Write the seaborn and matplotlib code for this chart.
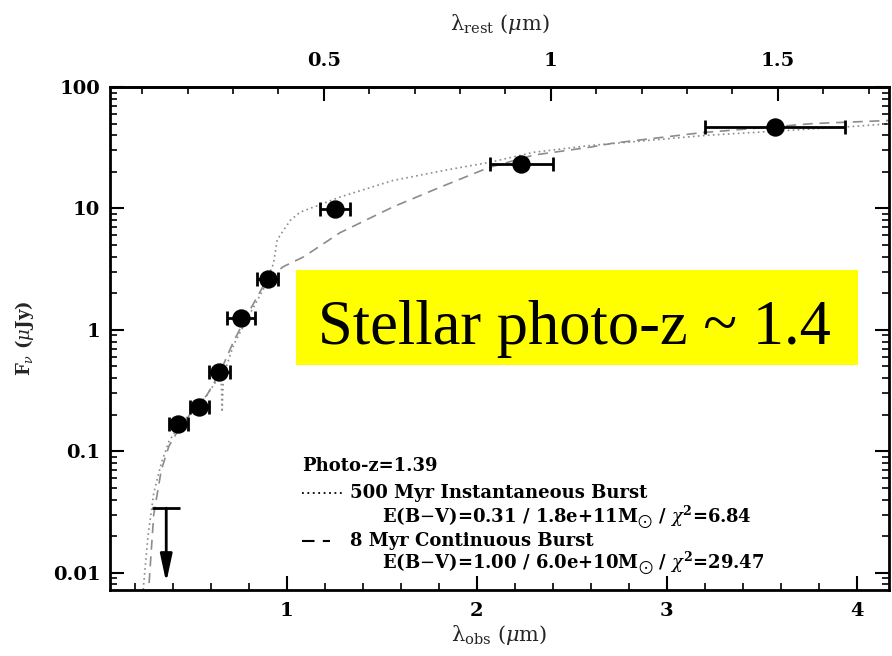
import numpy as np
import pandas as pd
import matplotlib
matplotlib.use("Agg")
import matplotlib.pyplot as plt
import seaborn as sns
from matplotlib.lines import Line2D
from matplotlib.patches import Rectangle
from matplotlib.ticker import MultipleLocator, NullFormatter, LogLocator

# Photometric redshift of the fit
photo_z = 1.39

# Observed photometry (micron, microJy) with band half-widths
lam_obs = [0.43, 0.54, 0.645, 0.76, 0.90, 1.255, 2.235, 3.57]
lam_lo = [0.05, 0.05, 0.055, 0.075, 0.055, 0.08, 0.165, 0.37]
lam_hi = [0.05, 0.05, 0.055, 0.075, 0.055, 0.08, 0.165, 0.37]
flux = [0.168, 0.232, 0.45, 1.25, 2.6, 9.9, 23.0, 46.5]

# Upper limit in the bluest band
ulim_lam = [0.366]
ulim_halfwidth = [0.075]
ulim_flux = [0.034]
ulim_arrow_tip = [0.0083]

# 500 Myr instantaneous burst model
lam_inst = [0.24, 0.27, 0.30, 0.34, 0.38, 0.43, 0.50, 0.58, 0.64, 0.655, 0.66, 0.667,
            0.72, 0.80, 0.88, 0.93, 0.95, 0.98, 1.02, 1.07, 1.28, 1.56, 1.86, 2.07,
            2.30, 2.60, 3.21, 3.95, 4.19]
flux_inst = [0.006, 0.02, 0.045, 0.08, 0.12, 0.16, 0.21, 0.29, 0.40, 0.40, 0.21, 0.42,
             0.75, 1.3, 2.2, 3.5, 5.5, 6.5, 8.0, 9.3, 12.4, 17.0, 21.0, 24.0,
             29.0, 33.0, 40.0, 47.0, 50.0]

# 8 Myr continuous burst model
lam_cont = [0.27, 0.30, 0.34, 0.38, 0.43, 0.50, 0.58, 0.65, 0.72, 0.80, 0.89, 0.98,
            1.09, 1.28, 1.56, 1.81, 2.06, 2.30, 2.60, 2.72, 3.18, 3.77, 4.17]
flux_cont = [0.006, 0.03, 0.07, 0.11, 0.15, 0.21, 0.29, 0.45, 0.8, 1.4, 2.5, 3.3,
             4.0, 6.3, 10.3, 15.0, 21.6, 27.5, 32.0, 34.5, 42.0, 50.0, 53.0]

y_ticks = [0.01, 0.1, 1, 10, 100]
y_ticklabels = ["0.01", "0.1", "1", "10", "100"]
x_ticks = [1, 2, 3, 4]
rest_ticks = [0.5, 1.0, 1.5]
rest_ticklabels = ["0.5", "1", "1.5"]

sns.set_theme(style="ticks")
plt.rcParams["font.family"] = ["DejaVu Serif"]
plt.rcParams["mathtext.fontset"] = "dejavuserif"

W, H = 892, 656
fig = plt.figure(figsize=(W / 100, H / 100), dpi=100)
fig.patch.set_facecolor("white")
ax = fig.add_axes([110 / W, 1 - 590 / H, 779 / W, 503 / H])
ax.set_facecolor("white")

inst = pd.DataFrame({"lam": lam_inst, "flux": flux_inst})
cont = pd.DataFrame({"lam": lam_cont, "flux": flux_cont})
sns.lineplot(data=inst, x="lam", y="flux", ax=ax, color="0.55", lw=1.2,
             linestyle=(0, (1, 2)), sort=True, estimator=None)
sns.lineplot(data=cont, x="lam", y="flux", ax=ax, color="0.55", lw=1.2,
             linestyle=(0, (6, 4)), sort=True, estimator=None)

ax.set_yscale("log")
ax.set_xlim(0.07, 4.17)
ax.set_ylim(0.0072, 100)

# photometry
ax.errorbar(lam_obs, flux, xerr=[lam_lo, lam_hi], fmt="none", ecolor="black",
            elinewidth=2, capsize=5, capthick=2, zorder=4)
sns.scatterplot(x=lam_obs, y=flux, ax=ax, color="black", s=150, edgecolor="black",
                zorder=5, legend=False)

# upper limit
ax.errorbar(ulim_lam, ulim_flux, xerr=ulim_halfwidth, fmt="none", ecolor="black",
            elinewidth=2, capsize=0, zorder=4)
ax.annotate("", xy=(ulim_lam[0], ulim_arrow_tip[0]), xytext=(ulim_lam[0], ulim_flux[0]),
            arrowprops=dict(arrowstyle="-|>,head_length=1.4,head_width=0.3",
                            color="black", lw=2, shrinkA=0, shrinkB=0), zorder=4)

# axes styling
for sp in ax.spines.values():
    sp.set_linewidth(2)
    sp.set_color("black")
ax.set_yticks(y_ticks)
ax.set_yticklabels(y_ticklabels, fontweight="bold")
ax.yaxis.set_minor_locator(LogLocator(base=10, subs=np.arange(2, 10)))
ax.yaxis.set_minor_formatter(NullFormatter())
ax.set_xticks(x_ticks)
ax.set_xticklabels([str(t) for t in x_ticks], fontweight="bold")
ax.xaxis.set_minor_locator(MultipleLocator(0.2))
ax.tick_params(which="major", direction="in", length=10, width=1.5, labelsize=14,
               top=False, right=True, left=True, bottom=True, color="black",
               labelcolor="black")
ax.tick_params(which="minor", direction="in", length=5, width=1.2, top=False,
               right=True, left=True, bottom=True, color="black")
ax.tick_params(axis="x", which="major", pad=9)
ax.tick_params(axis="y", which="major", pad=7)
ax.set_xlabel(r"λ$_{\rm obs}$ ($\mu$m)", fontsize=15, labelpad=2)
ax.set_ylabel(r"F$_\nu$ ($\mu$Jy)", fontsize=13, labelpad=12, fontweight="bold")

# rest-frame axis on top
sec = ax.secondary_xaxis("top", functions=(lambda x: x / (1 + photo_z),
                                           lambda x: x * (1 + photo_z)))
sec.set_xticks(rest_ticks)
sec.set_xticklabels(rest_ticklabels, fontweight="bold")
sec.xaxis.set_minor_locator(MultipleLocator(0.1))
sec.tick_params(which="major", direction="in", length=10, width=1.5, labelsize=14,
                pad=12, color="black", labelcolor="black")
sec.tick_params(which="minor", direction="in", length=5, width=1.2, color="black")
sec.spines["top"].set_linewidth(2)
sec.set_xlabel(r"λ$_{\rm rest}$ ($\mu$m)", fontsize=15, labelpad=16)

# fit legend
leg_kw = dict(fontsize=13, fontweight="bold", color="black", va="center", ha="left")
fig.text(302 / W, 1 - 466 / H, "Photo-z=1.39", **leg_kw)
fig.add_artist(Line2D([302 / W, 343 / W], [1 - 493 / H] * 2, color="black", lw=1.3,
                      linestyle=(0, (1, 2))))
fig.text(350 / W, 1 - 493 / H, "500 Myr Instantaneous Burst", **leg_kw)
fig.text(382 / W, 1 - 517 / H,
         r"E(B$-$V)=0.31 / 1.8e+11M$_{\bigodot}$ / $\chi^{\mathbf{2}}$=6.84", **leg_kw)
fig.add_artist(Line2D([302 / W, 330 / W], [1 - 541 / H] * 2, color="black", lw=1.5,
                      linestyle=(0, (6, 4))))
fig.text(350 / W, 1 - 541 / H, "8 Myr Continuous Burst", **leg_kw)
fig.text(382 / W, 1 - 563 / H,
         r"E(B$-$V)=1.00 / 6.0e+10M$_{\bigodot}$ / $\chi^{\mathbf{2}}$=29.47", **leg_kw)

# highlight box
fig.add_artist(Rectangle((296 / W, 1 - 365 / H), 562 / W, 95 / H,
                         transform=fig.transFigure, facecolor="#ffff00",
                         edgecolor="none", zorder=3))
fig.text(574 / W, 1 - 344 / H, "Stellar photo-z ~ 1.4", family="Liberation Serif",
         fontsize=45, color="black", ha="center", va="baseline", zorder=4)

fig.savefig("out.png", dpi=100)
